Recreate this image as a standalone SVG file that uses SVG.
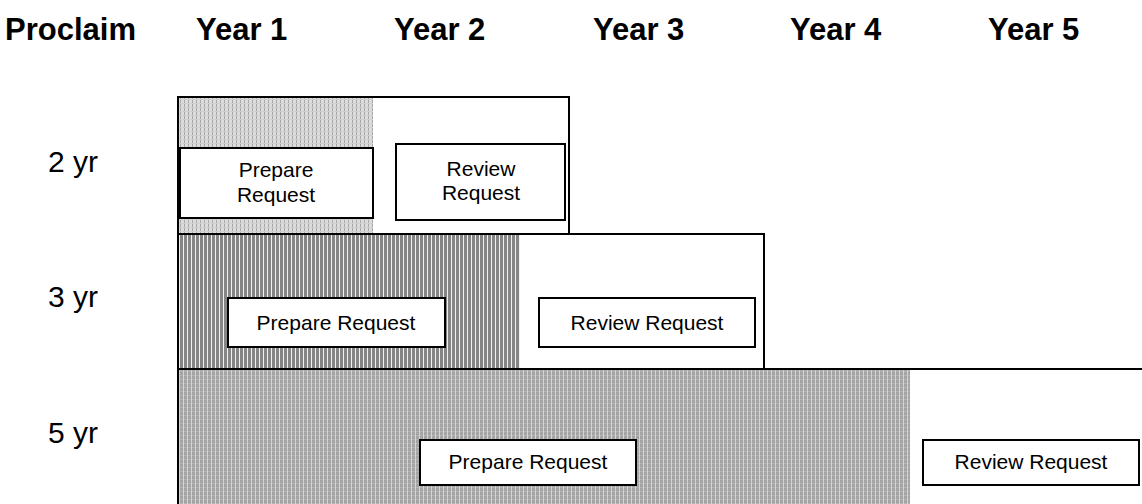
<svg xmlns="http://www.w3.org/2000/svg" width="1142" height="504" viewBox="0 0 1142 504">
<style>
.hdr{font-family:"Liberation Sans",Arial,sans-serif;font-size:31px;font-weight:bold;fill:#000}
.lbl{font-family:"Liberation Sans",Arial,sans-serif;font-size:30px;fill:#000}
.bt{font-family:"Liberation Sans",Arial,sans-serif;font-size:21px;fill:#000;text-anchor:middle}
.frame{fill:none;stroke:#000;stroke-width:2}
.box{fill:#fff;stroke:#000;stroke-width:2}
</style>
<defs>
<pattern id="pLight" width="4" height="4" patternUnits="userSpaceOnUse">
<rect width="4" height="4" fill="#dcdcdc"/>
<rect x="0" y="0" width="1" height="4" fill="#a8a8a8"/>
<rect x="0" y="3" width="4" height="1" fill="#d0d0d0"/>
</pattern>
<pattern id="pDark" width="4" height="4" patternUnits="userSpaceOnUse">
<rect width="4" height="4" fill="#858585"/>
<rect x="3" y="0" width="1" height="4" fill="#f0f0f0"/>
</pattern>
<pattern id="pMed" width="4" height="4" patternUnits="userSpaceOnUse">
<rect width="4" height="4" fill="#a4a4a4"/>
<rect x="3" y="0" width="1" height="4" fill="#d4d4d4"/>
<rect x="0" y="3" width="3" height="1" fill="#b4b4b4"/>
</pattern>
</defs>
<g id="header">
<text class="hdr" x="5" y="40">Proclaim</text>
<text class="hdr" x="196" y="40">Year 1</text>
<text class="hdr" x="394" y="40">Year 2</text>
<text class="hdr" x="593" y="40">Year 3</text>
<text class="hdr" x="790" y="40">Year 4</text>
<text class="hdr" x="988" y="40">Year 5</text>
</g>
<g id="labels">
<text class="lbl" x="48" y="172">2 yr</text>
<text class="lbl" x="48" y="307">3 yr</text>
<text class="lbl" x="48" y="443">5 yr</text>
</g>
<g id="row5">
<rect x="179" y="370" width="731" height="134" fill="url(#pMed)"/>
<path d="M178 505 V369 H1142" class="frame"/>
</g>
<g id="row3">
<rect x="179" y="235" width="341" height="134" fill="url(#pDark)"/>
<rect x="178" y="234" width="586" height="135" class="frame"/>
</g>
<g id="row2">
<rect x="179" y="98" width="194" height="135" fill="url(#pLight)"/>
<rect x="178" y="97" width="391" height="137" class="frame"/>
</g>
<g id="prep2">
<rect x="180" y="148" width="193" height="70" class="box"/>
<text class="bt" x="276" y="177">Prepare</text>
<text class="bt" x="276" y="202">Request</text>
</g>
<g id="rev2">
<rect x="396" y="144" width="169" height="76" class="box"/>
<text class="bt" x="481" y="176">Review</text>
<text class="bt" x="481" y="200">Request</text>
</g>
<g id="prep3">
<rect x="228" y="298" width="217" height="49" class="box"/>
<text class="bt" x="336" y="330">Prepare Request</text>
</g>
<g id="rev3">
<rect x="539" y="298" width="216" height="49" class="box"/>
<text class="bt" x="647" y="330">Review Request</text>
</g>
<g id="prep5">
<rect x="420" y="440" width="216" height="45" class="box"/>
<text class="bt" x="528" y="469">Prepare Request</text>
</g>
<g id="rev5">
<rect x="923" y="440" width="216" height="45" class="box"/>
<text class="bt" x="1031" y="469">Review Request</text>
</g>
<g id="connectors"/>
</svg>
